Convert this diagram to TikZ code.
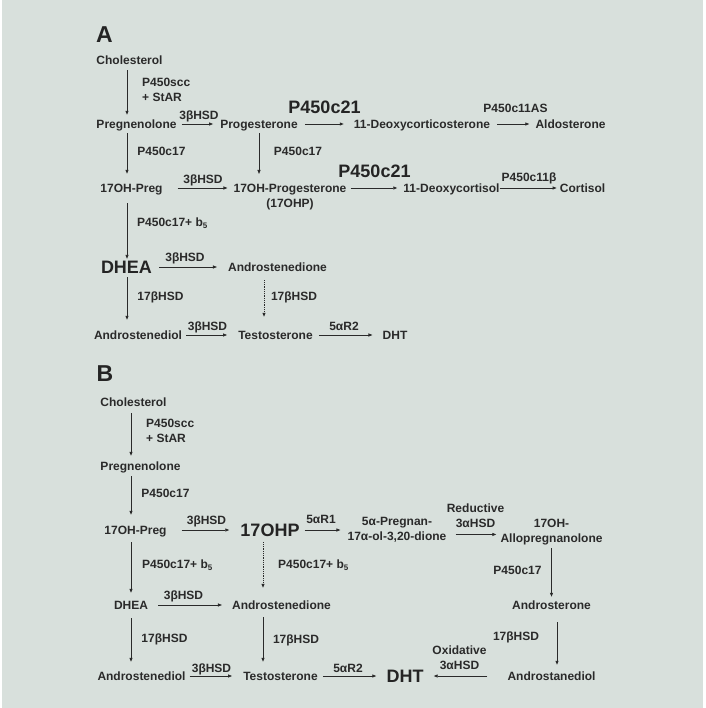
\documentclass[tikz,border=0pt]{standalone}
\usepackage{fontspec}
\setmainfont{Liberation Sans}
\usepackage{xcolor}
\usepackage{tikz}
\usetikzlibrary{arrows.meta, calc}

\definecolor{panelgray}{RGB}{216,224,220}
\definecolor{ink}{RGB}{42,42,42}

\begin{document}
\begin{tikzpicture}[x=1pt, y=-1pt,
    met/.style={font=\fontsize{12}{15}\selectfont\bfseries, text=ink, inner sep=0pt, text height=8.6pt, text depth=0pt},
    bigmet/.style={font=\fontsize{18}{21}\selectfont\bfseries, text=ink!85!black, inner sep=0pt, text height=12.9pt, text depth=0pt},
    twoline/.style={font=\fontsize{12}{15}\selectfont\bfseries, text=ink, inner sep=0pt, anchor=north},
    panel/.style={font=\fontsize{23}{26}\selectfont\bfseries, text=ink!85!black, inner sep=0pt, text height=16.5pt, text depth=0pt},
    rx/.style={draw=ink, line width=0.8pt, -{Triangle[length=4pt,width=3pt]}}]

    % =================================================================
    % 0. BACKGROUND AND HELPER COLUMNS
    % =================================================================
    \fill[white] (0,0) rectangle (705,708);
    \fill[panelgray] (2,0) rectangle (703,708);
    \useasboundingbox (0,0) rectangle (705,708);

    % x positions of the vertical arrows
    \coordinate (colA) at (127,0);
    \coordinate (dotA) at (264,0);
    \coordinate (colB) at (131,0);
    \coordinate (midB) at (263,0);
    \coordinate (colC) at (557,0);

    % =================================================================
    % 1. PANEL A: STEROIDS
    % =================================================================
    \node[panel] (lblA) at (104.5,34) {A};
    \node[met] (cholA) at (129.5,60) {Cholesterol};
    \node[met] (pregA) at (136.5,124) {Pregnenolone};
    \node[met] (progA) at (259,124) {Progesterone};
    \node[met] (docA) at (422,124) {11-Deoxycorticosterone};
    \node[met] (aldoA) at (570.5,124) {Aldosterone};
    \node[met] (ohpregA) at (131.5,188) {17OH-Preg};
    \node[twoline, align=center] (ohpA) at (290,183.7) {17OH-Progesterone\\(17OHP)};
    \node[met] (dcolA) at (451.5,188) {11-Deoxycortisol};
    \node[met] (cortA) at (582.5,188) {Cortisol};
    \node[bigmet] (dheaA) at (126.5,267) {DHEA};
    \node[met] (adioneA) at (277.5,267) {Androstenedione};
    \node[met] (adiolA) at (138,335) {Androstenediol};
    \node[met] (testoA) at (275.5,335) {Testosterone};
    \node[met] (dhtA) at (395,335) {DHT};

    % enzymes of panel A
    \node[twoline, align=left, anchor=north west] (sccA) at (142,77.7) {P450scc\\+ StAR};
    \node[met] (hsdA1) at (199,115) {3βHSD};
    \node[bigmet] (c21A1) at (324.5,107) {P450c21};
    \node[met] (c11asA) at (515.5,108) {P450c11AS};
    \node[met] (c17A1) at (161.5,151) {P450c17};
    \node[met] (c17A2) at (298,151) {P450c17};
    \node[met] (hsdA2) at (203,179) {3βHSD};
    \node[bigmet] (c21A2) at (374.5,171) {P450c21};
    \node[met] (c11bA) at (529,177) {P450c11β};
    \node[met, anchor=west] (c17bA) at (137,222) {P450c17+ b\textsubscript{5}};
    \node[met] (hsdA3) at (185,257) {3βHSD};
    \node[met] (hsdA4) at (160.5,296) {17βHSD};
    \node[met] (hsdA5) at (294,296) {17βHSD};
    \node[met] (hsdA6) at (207.5,326) {3βHSD};
    \node[met] (redA) at (344,326) {5αR2};

    % arrows of panel A
    \foreach \a/\b/\s/\e in {cholA/pregA/5.7/4.7, pregA/ohpregA/4.7/9.7, ohpregA/dheaA/10.7/1.5, dheaA/adiolA/3.5/10.7} {
        \draw[rx, shorten <=\s pt, shorten >=\e pt] (\a.south -| colA) -- (\b.north -| colA);
    }
    \draw[rx, shorten <=4.7pt, shorten >=9.7pt] (progA.south) -- (progA.south |- ohpA.north);
    \draw[rx, densely dotted, shorten <=8.7pt, shorten >=13.7pt] (adioneA.south -| dotA) -- (testoA.north -| dotA);

    \foreach \a/\b/\s/\e in {pregA/progA/5/7, progA/docA/7/10, docA/aldoA/7/6, dcolA/cortA/0/3, dheaA/adioneA/7/11, adiolA/testoA/4/11, testoA/dhtA/6/10} {
        \draw[rx, shorten <=\s pt, shorten >=\e pt] (\a.east) -- (\b.west);
    }
    \draw[rx, shorten <=15pt, shorten >=6pt] (ohpregA.east) -- (ohpregA.east -| ohpA.west);
    \draw[rx, shorten <=4pt, shorten >=6pt] (dcolA.west -| ohpA.east) -- (dcolA.west);

    % =================================================================
    % 2. PANEL B: BACKDOOR PATHWAY
    % =================================================================
    \node[panel] (lblB) at (105,373) {B};
    \node[met] (cholB) at (133.5,402) {Cholesterol};
    \node[met] (pregB) at (140.5,466) {Pregnenolone};
    \node[met] (ohpregB) at (135.5,530) {17OH-Preg};
    \node[bigmet] (ohpB) at (270,530) {17OHP};
    \node[twoline, align=center] (pregnanB) at (397,516.7) {5α-Pregnan-\\17α-ol-3,20-dione};
    \node[twoline, align=center] (alloB) at (551.5,518.7) {17OH-\\Allopregnanolone};
    \node[met] (dheaB) at (131,605) {DHEA};
    \node[met] (adioneB) at (281.5,605) {Androstenedione};
    \node[met] (andrB) at (551.5,605) {Androsterone};
    \node[met] (adiolB) at (141.5,676) {Androstenediol};
    \node[met] (testoB) at (280.5,676) {Testosterone};
    \node[bigmet] (dhtB) at (405,676) {DHT};
    \node[met] (anolB) at (551.5,676) {Androstanediol};

    % enzymes of panel B
    \node[twoline, align=left, anchor=north west] (sccB) at (146,418.7) {P450scc\\+ StAR};
    \node[met] (c17B1) at (165.5,493) {P450c17};
    \node[met] (hsdB1) at (206.5,520) {3βHSD};
    \node[met] (redB1) at (321,519) {5αR1};
    \node[twoline, align=center] (redctB) at (475.5,503.7) {Reductive\\3αHSD};
    \node[met] (c17B2) at (517.5,570) {P450c17};
    \node[met, anchor=west] (c17bB1) at (142,564) {P450c17+ b\textsubscript{5}};
    \node[met, anchor=west] (c17bB2) at (278,564) {P450c17+ b\textsubscript{5}};
    \node[met] (hsdB2) at (183.5,595) {3βHSD};
    \node[met] (hsdB3) at (164.5,638) {17βHSD};
    \node[met] (hsdB4) at (296,639) {17βHSD};
    \node[met] (hsdB5) at (516,636) {17βHSD};
    \node[twoline, align=center] (oxB) at (459.5,645.7) {Oxidative\\3αHSD};
    \node[met] (hsdB6) at (211.5,668) {3βHSD};
    \node[met] (redB2) at (348,668) {5αR2};

    % arrows of panel B
    \foreach \a/\b/\s/\e in {cholB/pregB/6.7/5.7, pregB/ohpregB/5.7/10.7, ohpregB/dheaB/7.7/7.7, dheaB/adiolB/8.7/9.7} {
        \draw[rx, shorten <=\s pt, shorten >=\e pt] (\a.south -| colB) -- (\b.north -| colB);
    }
    \draw[rx, densely dotted, shorten <=5.5pt, shorten >=12.7pt] (ohpB.south -| midB) -- (adioneB.north -| midB);
    \draw[rx, shorten <=7.7pt, shorten >=9.7pt] (adioneB.south -| midB) -- (testoB.north -| midB);
    \draw[rx, shorten <=3pt, shorten >=3.7pt] (alloB.south) -- (andrB.north);
    \draw[rx, shorten <=12.7pt, shorten >=6.7pt] (andrB.south -| colC) -- (anolB.north -| colC);

    \foreach \a/\b/\s/\e in {ohpregB/ohpB/15/11, dheaB/adioneB/10/10, adiolB/testoB/4/11, testoB/dhtB/5/10} {
        \draw[rx, shorten <=\s pt, shorten >=\e pt] (\a.east) -- (\b.west);
    }
    \draw[rx, shorten <=5pt, shorten >=7pt] (ohpB.east) -- (ohpB.east -| pregnanB.west);
    \draw[rx, shorten <=9pt, shorten >=4pt] ([yshift=-5pt]pregnanB.east) -- ([yshift=-5pt]pregnanB.east -| alloB.west);
    \draw[rx, shorten <=20pt, shorten >=10pt] (anolB.west) -- (dhtB.east);

\end{tikzpicture}
\end{document}
